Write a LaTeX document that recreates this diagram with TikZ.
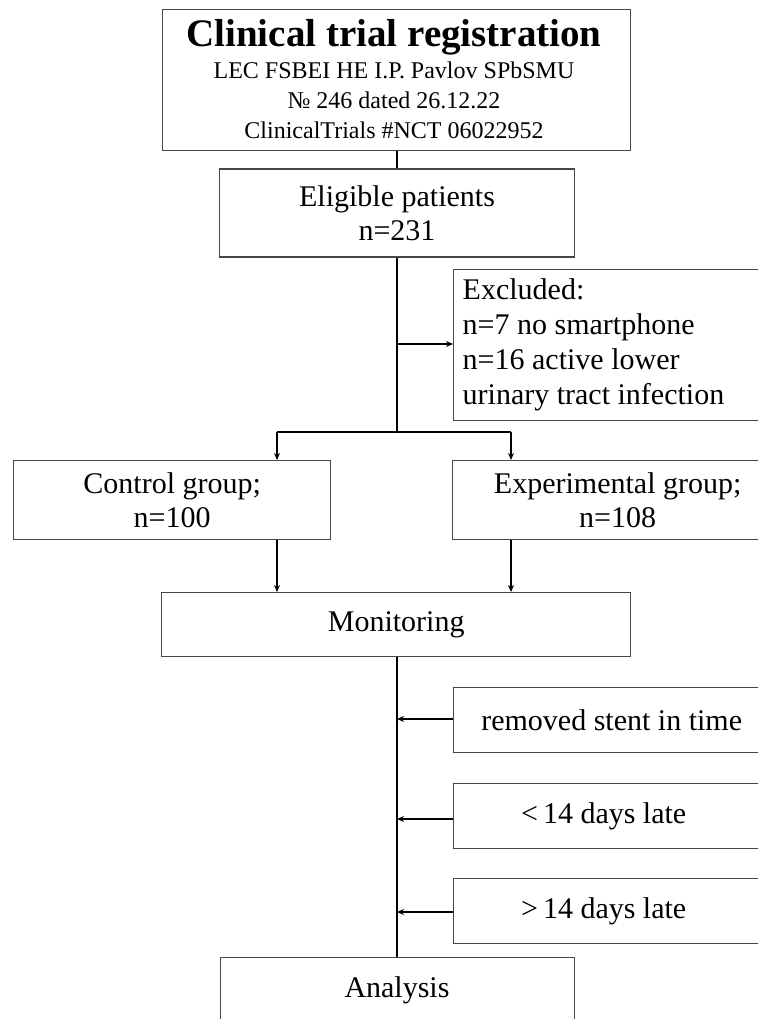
\documentclass[tikz,border=0pt]{standalone}
\usepackage{fontspec}
\setmainfont{Liberation Serif}
\usetikzlibrary{arrows.meta}
\begin{document}
\begin{tikzpicture}[x=1pt,y=-1pt,
  box/.style={draw=black!72, line width=1.4pt, inner sep=0pt, align=center,
              font=\fontsize{30}{34}\selectfont},
  txt/.style={inner sep=0pt, align=center},
  conn/.style={line width=1.9pt, black},
  arr/.style={conn, -{Stealth[length=7pt,width=6pt]}}]
\useasboundingbox (0,0) rectangle (758,1019);
\clip (0,0) rectangle (758,1019);
\fill[white] (0,0) rectangle (758,1019);

% top box
\node[box, minimum width=468, minimum height=141, anchor=north west] (reg) at (162,9) {};
\node[txt, font=\fontsize{39}{39}\bfseries\selectfont] (t1) at (394,37) {Clinical trial registration};
\node[txt, font=\fontsize{24}{24}\selectfont] (t2) at (394,70) {LEC FSBEI HE I.P. Pavlov SPbSMU};
\node[txt, font=\fontsize{24}{24}\selectfont] (t3) at (394,100) {№ 246 dated 26.12.22};
\node[txt, font=\fontsize{24}{24}\selectfont] (t4) at (394,130) {ClinicalTrials \#NCT 06022952};

% eligible
\node[box, minimum width=355, minimum height=88] (elig) at (397,213) {Eligible patients\\n=231};

% excluded
\node[box, minimum height=151, anchor=north west, align=flush left,
      font=\fontsize{30}{35}\selectfont, inner xsep=9pt, text width=330pt] (excl) at (453,269)
  {Excluded:\\n=7 no smartphone\\n=16 active lower\\urinary tract infection};

% groups
\node[box, minimum width=317, minimum height=79, anchor=north west] (ctrl) at (13,460) {Control group;\\n=100};
\node[box, minimum width=330, minimum height=79, anchor=north west] (exp) at (452,460)
  {Experimental group;\\n=108};

% monitoring
\node[box, minimum width=469, minimum height=64, anchor=north west] (mon) at (161,592) {Monitoring};

% outcomes
\node[box, minimum width=316, minimum height=65, anchor=north west] (o1) at (453,687) {removed stent in time};
\node[box, minimum width=316, minimum height=65, anchor=north west] (o2) at (453,783) {\hspace*{-16pt}<\,14 days late};
\node[box, minimum width=316, minimum height=65, anchor=north west] (o3) at (453,878) {\hspace*{-16pt}>\,14 days late};

% analysis
\node[box, minimum width=354, minimum height=90, anchor=north west] (ana) at (220,957) {};
\node[txt, font=\fontsize{30}{30}\selectfont] (anat) at (397,990) {Analysis};

% connectors
\coordinate (split) at (397,432);
\coordinate (exj) at (397,344);
\coordinate (j1) at (397,719);
\coordinate (j2) at (397,819);
\coordinate (j3) at (397,912);
\draw[conn] (reg.south -| elig.north) -- (elig.north);
\draw[conn] (elig.south) -- (split);
\draw[arr] (exj) -- (exj -| excl.west);
\draw[conn] (277,432) -- (511,432);
\draw[arr] (277,432) -- (277,460);
\draw[arr] (511,432) -- (511,460);
\draw[arr] (ctrl.south -| 277,0) -- (277,592);
\draw[arr] (exp.south -| 511,0) -- (511,592);
\draw[conn] (mon.south -| 397,0) -- (397,957);
\draw[arr] (j1 -| o1.west) -- (j1);
\draw[arr] (j2 -| o2.west) -- (j2);
\draw[arr] (j3 -| o3.west) -- (j3);
\end{tikzpicture}
\end{document}
